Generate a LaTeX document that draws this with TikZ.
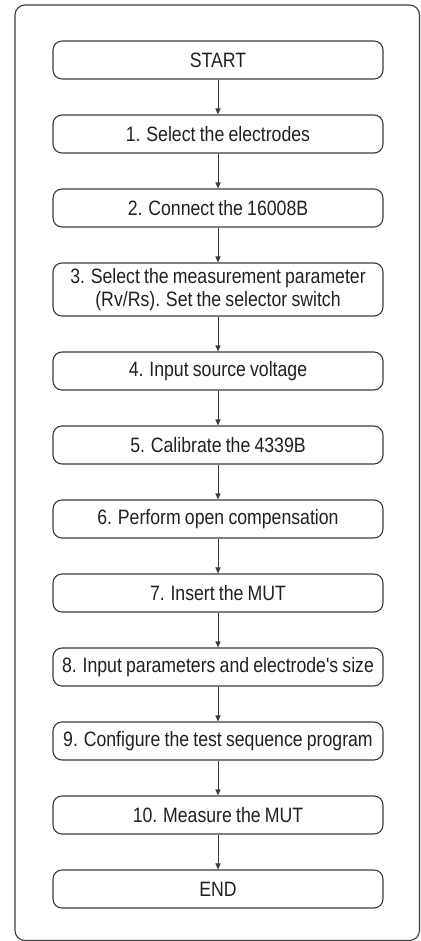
\documentclass[tikz,border=0pt]{standalone}
\usepackage{fontspec}
\newfontfamily\flowfont[FakeStretch=0.85,WordSpace=0.85]{Liberation Sans}
\usetikzlibrary{arrows.meta}
\definecolor{linegray}{HTML}{3A3A3A}
\definecolor{textgray}{HTML}{231F20}
\tikzset{
  stepbox/.style={draw=linegray, line width=1.1pt, rounded corners=9pt,
    minimum width=330pt, minimum height=38pt, inner sep=0pt,
    align=center, text=textgray, font=\flowfont\fontsize{20.8}{22.5}\selectfont},
  flow/.style={draw=linegray, line width=1pt, -{Triangle[length=6pt,width=5pt]}}
}
\begin{document}
\begin{tikzpicture}[x=1pt,y=-1pt]
\useasboundingbox (0,0) rectangle (420,941);
\draw[linegray, line width=1.1pt, rounded corners=10pt] (15,5) rectangle (419.5,940.5);
\node[stepbox] (start) at (218,60) {START};
\node[stepbox] (s1) at (218,134) {1. Select the electrodes};
\node[stepbox] (s2) at (218,208) {2. Connect the 16008B};
\node[stepbox, minimum height=53pt] (s3) at (218,289.5) {3. Select the measurement parameter\\(Rv/Rs). Set the selector switch};
\node[stepbox] (s4) at (218,371) {4. Input source voltage};
\node[stepbox] (s5) at (218,445) {5. Calibrate the 4339B};
\node[stepbox] (s6) at (218,519) {6. Perform open compensation};
\node[stepbox] (s7) at (218,593) {7. Insert the MUT};
\node[stepbox] (s8) at (218,667) {8. Input parameters and electrode's size};
\node[stepbox] (s9) at (218,741) {9. Configure the test sequence program};
\node[stepbox] (s10) at (218,815) {10. Measure the MUT};
\node[stepbox] (end) at (218,889) {END};
\draw[flow] (start) -- (s1);
\draw[flow] (s1) -- (s2);
\draw[flow] (s2) -- (s3);
\draw[flow] (s3) -- (s4);
\draw[flow] (s4) -- (s5);
\draw[flow] (s5) -- (s6);
\draw[flow] (s6) -- (s7);
\draw[flow] (s7) -- (s8);
\draw[flow] (s8) -- (s9);
\draw[flow] (s9) -- (s10);
\draw[flow] (s10) -- (end);
\end{tikzpicture}
\end{document}
